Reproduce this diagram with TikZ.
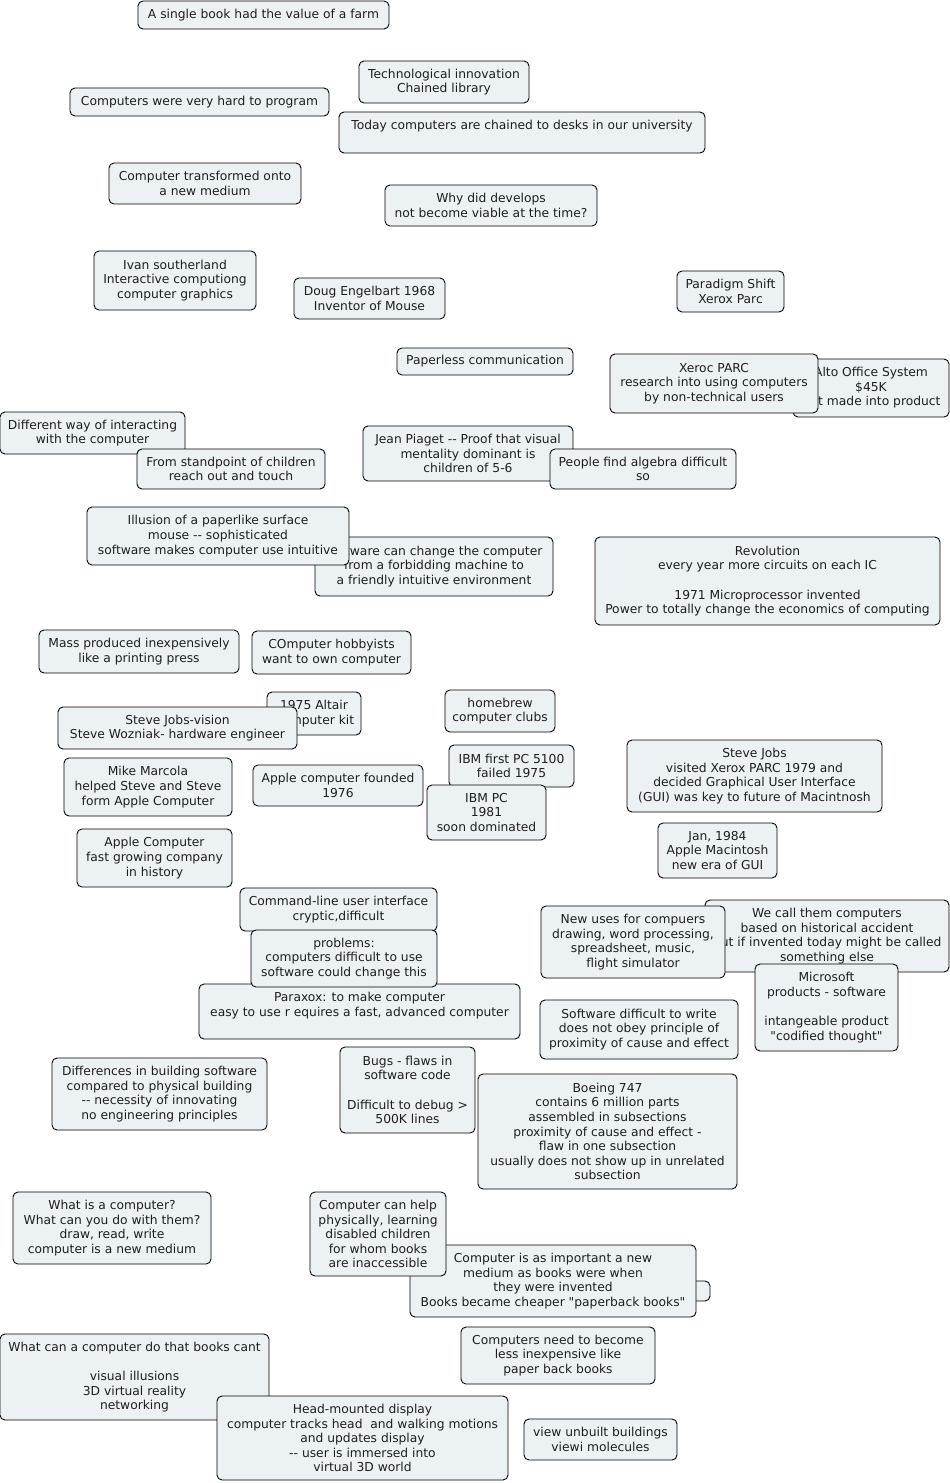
\documentclass[tikz,border=0pt]{standalone}
\usepackage{fontspec}
\setmainfont{DejaVu Sans}
\definecolor{boxfill}{HTML}{ECF2F4}
\definecolor{boxtext}{HTML}{1E1E1E}
\tikzset{
  box/.style={draw=black, line width=0.9pt, fill=boxfill, rounded corners=5pt,
    align=center, inner sep=0pt, text=boxtext,
    font=\fontsize{12.3}{14.6}\selectfont}
}
\newcommand\bx[6]{\node[box, minimum width=#4pt, minimum height=#5pt] (#1) at (#2,#3) {#6};}
\newcommand\dd{{-}{-}}
\newcommand\qq{\textquotedbl}
\begin{document}
\begin{tikzpicture}[x=1pt,y=-1pt]
\useasboundingbox[fill=white] (0,0) rectangle (950,1483);
\bx{n1}{263.5}{15}{251}{28}{A single book had the value of a farm}
\bx{n2}{444}{82}{170}{42}{Technological innovation\\Chained library}
\bx{n3}{199.5}{102}{259}{28}{Computers were very hard to program}
\bx{n4}{522}{132.5}{366}{41}{Today computers are chained to desks in our university\\~}
\bx{n5}{205}{183.5}{192}{41}{Computer transformed onto\\a new medium}
\bx{n6}{491}{205.5}{212}{41}{Why did develops\\not become viable at the time?}
\bx{n7}{175}{280.5}{162}{59}{Ivan southerland\\Interactive computiong\\computer graphics}
\bx{n8}{369.5}{298.5}{151}{41}{Doug Engelbart 1968\\Inventor of Mouse}
\bx{n9}{485}{361.5}{176}{27}{Paperless communication}
\bx{n10}{92.5}{433}{185}{42}{Different way of interacting\\with the computer}
\bx{n11}{231}{469}{188}{40}{From standpoint of children\\reach out and touch}
\bx{n12}{468}{453.5}{210}{55}{Jean Piaget \dd{} Proof that visual\\mentality dominant is\\children of 5-6}
\bx{n13}{643}{469}{186}{40}{People find algebra difficult\\so}
\bx{n14}{730.5}{291.5}{107}{41}{Paradigm Shift\\Xerox Parc}
\bx{n15}{871}{388}{156}{58}{Alto Office System\\\$45K\\Not made into product}
\bx{n16}{714}{383.5}{208}{59}{Xeroc PARC\\research into using computers\\by non-technical users}
\bx{n18}{434}{566.5}{238}{59}{Software can change the computer\\from a forbidding machine to\\a friendly intuitive environment}
\bx{n17}{218}{536}{262}{58}{Illusion of a paperlike surface\\mouse \dd{} sophisticated\\software makes computer use intuitive}
\bx{n19}{767.5}{581}{345}{88}{Revolution\\every year more circuits on each IC\\~\\1971 Microprocessor invented\\Power to totally change the economics of computing}
\bx{n20}{139}{651.5}{200}{43}{Mass produced inexpensively\\like a printing press}
\bx{n21}{331.5}{652.5}{159}{43}{COmputer hobbyists\\want to own computer}
\bx{n22}{314}{713.5}{94}{43}{1975 Altair\\Computer kit}
\bx{n23}{177.5}{728}{239}{42}{Steve Jobs-vision\\Steve Wozniak- hardware engineer}
\bx{n24}{500}{711}{110}{42}{homebrew\\computer clubs}
\bx{n25}{511.5}{766}{125}{42}{IBM first PC 5100\\failed 1975}
\bx{n26}{486.5}{812.5}{119}{55}{IBM PC\\1981\\soon dominated}
\bx{n27}{338}{785.5}{170}{41}{Apple computer founded\\1976}
\bx{n28}{148}{787}{168}{58}{Mike Marcola\\helped Steve and Steve\\form Apple Computer}
\bx{n29}{154.5}{858}{155}{58}{Apple Computer\\fast growing company\\in history}
\bx{n30}{754.5}{776}{255}{72}{Steve Jobs\\visited Xerox PARC 1979 and\\decided Graphical User Interface\\(GUI) was key to future of Macintnosh}
\bx{n31}{717.5}{850.5}{119}{55}{Jan, 1984\\Apple Macintosh\\new era of GUI}
\bx{n34}{359.5}{1011.5}{321}{55}{Paraxox: to make computer\\easy to use r equires a fast, advanced computer\\~}
\bx{n32}{338.5}{909.5}{197}{43}{Command-line user interface\\cryptic,difficult}
\bx{n33}{344}{958.5}{186}{57}{problems:\\computers difficult to use\\software could change this}
\bx{n36}{827}{936}{244}{72}{We call them computers\\based on historical accident\\But if invented today might be called\\something else}
\bx{n35}{633}{942}{184}{72}{New uses for compuers\\drawing, word processing,\\spreadsheet, music,\\flight simulator}
\bx{n37}{826.5}{1007.5}{143}{87}{Microsoft\\products - software\\~\\intangeable product\\\qq{}codified thought\qq}
\bx{n38}{639}{1029.5}{198}{59}{Software difficult to write\\does not obey principle of\\proximity of cause and effect}
\bx{n39}{159.5}{1094}{215}{72}{Differences in building software\\compared to physical building\\\dd{} necessity of innovating\\no engineering principles}
\bx{n40}{407.5}{1090}{135}{86}{Bugs - flaws in\\software code\\~\\Difficult to debug >\\500K lines}
\bx{n41}{607.5}{1131.5}{259}{115}{Boeing 747\\contains 6 million parts\\assembled in subsections\\proximity of cause and effect -\\flaw in one subsection\\usually does not show up in unrelated\\subsection}
\bx{n42}{112}{1228}{198}{72}{What is a computer?\\What can you do with them?\\draw, read, write\\computer is a new medium}
\bx{n44b}{695}{1291}{30}{20}{}
\bx{n44}{553}{1281}{286}{72}{Computer is as important a new\\medium as books were when\\they were invented\\Books became cheaper \qq{}paperback books\qq}
\bx{n43}{378}{1234}{136}{84}{Computer can help\\physically, learning\\disabled children\\for whom books\\are inaccessible}
\bx{n45}{558}{1355.5}{194}{57}{Computers need to become\\less inexpensive like\\paper back books}
\bx{n46}{134.5}{1377}{269}{86}{What can a computer do that books cant\\~\\visual illusions\\3D virtual reality\\networking}
\bx{n47}{362.5}{1438}{291}{84}{Head-mounted display\\computer tracks head~ and walking motions\\and updates display\\\dd{} user is immersed into\\virtual 3D world}
\bx{n48}{600.5}{1439.5}{153}{41}{view unbuilt buildings\\viewi molecules}
\end{tikzpicture}
\end{document}
